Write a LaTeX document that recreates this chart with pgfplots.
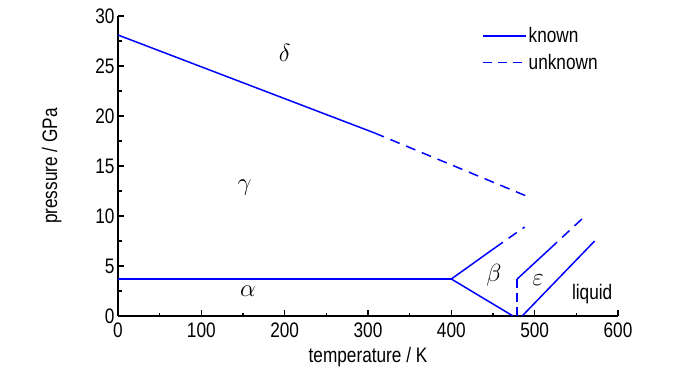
\documentclass[border=0pt]{standalone}
\usepackage{fontspec}
\setmainfont{Liberation Sans}[FakeStretch=0.82]
\usepackage{pgfplots}
\pgfplotsset{compat=1.18}
\definecolor{pblue}{RGB}{0,0,255}
\begin{document}
\begin{tikzpicture}
\path[use as bounding box] (-118bp,-58bp) rectangle (582bp,316bp);
\begin{axis}[
  at={(0,0)}, anchor=south west,
  scale only axis, width=500bp, height=300bp,
  xmin=0, xmax=600, ymin=0, ymax=30,
  axis x line*=bottom, axis y line*=left,
  axis line style={line width=1.4bp, black},
  tick style={line width=1.2bp, black},
  major tick length=6bp, minor tick length=3.5bp,
  tick align=inside,
  xtick={0,100,...,600}, ytick={0,5,...,30},
  minor x tick num=1, minor y tick num=1,
  /pgf/number format/assume math mode=true,
  ticklabel style={font=\fontsize{21bp}{23bp}\selectfont},
  xticklabel style={yshift=-3bp},
  yticklabel style={xshift=0bp},
  label style={font=\fontsize{21bp}{23bp}\selectfont},
  xlabel={temperature / K}, ylabel={pressure / GPa},
  xlabel style={yshift=-3bp}, ylabel style={yshift=27bp},
  clip=false,
  legend style={draw=none, fill=none, at={(0.722,0.975)}, anchor=north west,
    font=\fontsize{21bp}{23bp}\selectfont, row sep=6bp,
    /tikz/every even column/.append style={column sep=5bp}},
  legend cell align=left,
  legend image code/.code={\draw[#1] (0bp,0bp) -- (43bp,0bp);},
]
\addplot[pblue, line width=1.5bp] coordinates {(-100,-100)};
\addlegendentry{known}
\addplot[pblue, line width=1.5bp, dash pattern=on 9bp off 6bp] coordinates {(-100,-100)};
\addlegendentry{unknown}
% known (solid)
\addplot[pblue, line width=1.5bp, forget plot] coordinates {(0,28.1) (308,18.3)};
\addplot[pblue, line width=1.5bp, forget plot] coordinates {(0,3.7) (400,3.7)};
\addplot[pblue, line width=1.5bp, forget plot] coordinates {(452,6.8) (400,3.7) (474,0)};
\addplot[pblue, line width=1.5bp, forget plot] coordinates {(479,3.7) (518,6.7)};
\addplot[pblue, line width=1.5bp, forget plot] coordinates {(485,0) (572,7.5)};
% unknown (dashed)
\addplot[pblue, line width=1.5bp, dash pattern=on 10bp off 7bp, forget plot] coordinates {(308,18.3) (490,12.0)};
\addplot[pblue, line width=1.5bp, dash pattern=on 10bp off 7bp, forget plot] coordinates {(452,6.8) (488,8.9)};
\addplot[pblue, line width=1.5bp, dash pattern=on 10bp off 7bp, forget plot] coordinates {(518,6.7) (558,9.8)};
\addplot[pblue, line width=1.5bp, dash pattern=on 9bp off 5bp, forget plot] coordinates {(479,0) (479,3.7)};
% labels
\node[font=\fontsize{24bp}{26bp}\selectfont] at (axis cs:200,26.3) {$\delta$};
\node[font=\fontsize{24bp}{26bp}\selectfont] at (axis cs:152,12.8) {$\gamma$};
\node[font=\fontsize{24bp}{26bp}\selectfont] at (axis cs:156,2.5) {$\alpha$};
\node[font=\fontsize{24bp}{26bp}\selectfont] at (axis cs:451,4.1) {$\beta$};
\node[font=\fontsize{24bp}{26bp}\selectfont] at (axis cs:504,3.6) {$\varepsilon$};
\node[font=\fontsize{21bp}{23bp}\selectfont] at (axis cs:569,2.2) {liquid};
\end{axis}
\end{tikzpicture}
\end{document}
